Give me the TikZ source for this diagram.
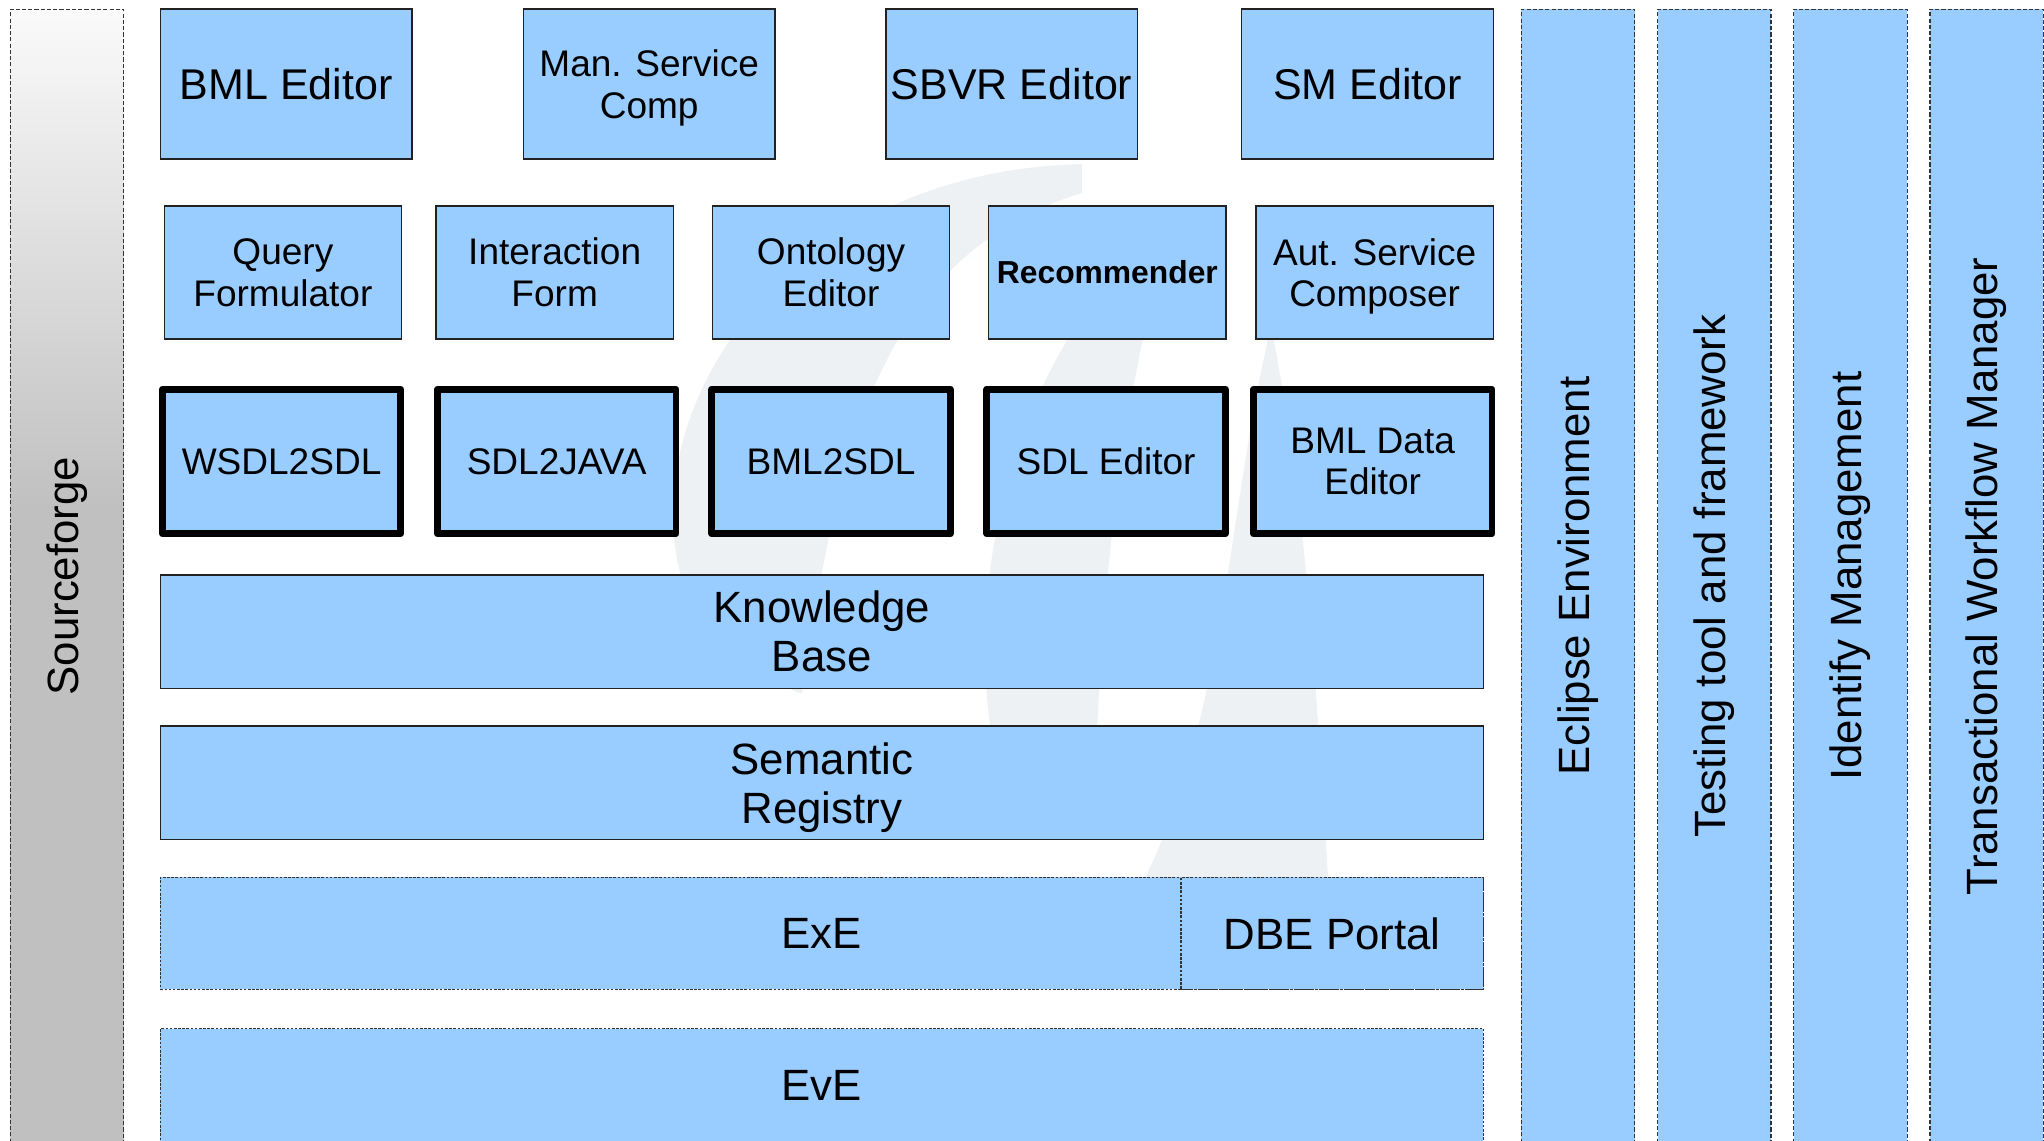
\documentclass[tikz,border=0pt]{standalone}
\usepackage{fontspec}
\setmainfont{Liberation Sans}
\usepackage{graphicx}
\definecolor{boxblue}{HTML}{99CCFF}
\definecolor{wmgrey}{HTML}{EEF1F4}
\definecolor{sfgrey}{HTML}{C0C0C0}
\definecolor{sflight}{HTML}{FAFAFA}
\definecolor{edgegrey}{HTML}{222222}
\pgfdeclareverticalshading{sfshade}{100bp}{color(0bp)=(sfgrey); color(53bp)=(sfgrey); color(75bp)=(sflight); color(100bp)=(sflight)}
\newcommand\myBig{\fontsize{16.5}{18.5}\selectfont}
\newcommand\myLayer{\fontsize{16.8}{18.8}\selectfont}
\newcommand\myMid{\fontsize{14.2}{16}\selectfont}
\newcommand\mySmall{\fontsize{12.2}{14}\selectfont\bfseries}
\newcommand\nodepth[1]{\raisebox{0pt}[\height][0pt]{#1}}
\tikzset{
  box/.style={draw=edgegrey, line width=0.55pt, fill=boxblue, inner sep=0pt, align=center, text=black},
  toprow/.style={box, minimum width=96.5pt, minimum height=57.5pt},
  midrow/.style={box, font=\myMid, minimum width=91pt, minimum height=51pt},
  toolbox/.style={box, draw=black, line width=2.6pt, line join=round, font=\myMid, minimum width=91.5pt, minimum height=55.5pt},
  layer/.style={box, font=\myLayer, minimum width=507.5pt, minimum height=43.5pt},
  dotlayer/.style={box, draw=black!80, line width=0.45pt, dash pattern=on 1pt off 0.6pt, font=\myLayer, minimum height=43pt},
  column/.style={box, draw=black!80, line width=0.45pt, dash pattern=on 1.6pt off 0.8pt, font=\myLayer, minimum width=43.5pt, minimum height=435pt},
}
\begin{document}
\begin{tikzpicture}[x=0.5pt, y=-0.5pt]
\useasboundingbox (0,0) rectangle (1568,875);
\clip (0,0) rectangle (1568,875);
\fill[white] (0,0) rectangle (1568,875);
% faint watermark
\fill[wmgrey] (830,126) .. controls (620,130) and (500,290) .. (518,420)
  .. controls (525,480) and (570,515) .. (615,532)
  .. controls (640,380) and (660,200) .. (830,148) -- cycle;
\fill[wmgrey] (900,170) .. controls (790,250) and (740,420) .. (760,560)
  .. controls (770,610) and (800,620) .. (840,600)
  .. controls (845,450) and (860,300) .. (900,170) -- cycle;
\fill[wmgrey] (975,250) .. controls (940,400) and (940,560) .. (870,690)
  -- (1020,690) .. controls (1010,550) and (1005,400) .. (975,250) -- cycle;
% left strip
\node[column, shade, shading=sfshade] (sf) at (51.5,442) {\rotatebox{90}{Sourceforge}};
% right columns
\node[column] (eclipse) at (1210.5,442) {\rotatebox{90}{Eclipse Environment}};
\node[column] (testing) at (1315,442) {\rotatebox{90}{Testing tool and framework}};
\node[column] (identify) at (1419.5,442) {\rotatebox{90}{Identify Management}};
\node[column] (twm) at (1524,442) {\rotatebox{90}{Transactional Workflow Manager}};
% row 1
\node[toprow, font=\myBig] (bml) at (219.5,64.5) {BML Editor};
\node[toprow, font=\myMid] (msc) at (498,64.5) {Man. Service\\\nodepth{Comp}};
\node[toprow, font=\myBig] (sbvr) at (776,64.5) {SBVR Editor};
\node[toprow, font=\myBig] (sm) at (1049,64.5) {SM Editor};
% row 2
\node[midrow] (qf) at (217,209) {Query\\Formulator};
\node[midrow] (if) at (425.5,209) {Interaction\\Form};
\node[midrow] (oe) at (637.5,209) {Ontology\\Editor};
\node[midrow, font=\mySmall] (rec) at (849.5,209) {Recommender};
\node[midrow] (asc) at (1054.5,209) {Aut. Service\\\nodepth{Composer}};
% row 3
\node[toolbox] (w2s) at (216,354) {WSDL2SDL};
\node[toolbox] (s2j) at (427,354) {SDL2JAVA};
\node[toolbox] (b2s) at (637.5,354) {BML2SDL};
\node[toolbox] (sdle) at (848.5,354) {SDL Editor};
\node[toolbox] (bde) at (1053,354) {BML Data\\Editor};
% layers
\node[layer] (kb) at (630.5,484.5) {Knowledge\\Base};
\node[layer] (sr) at (630.5,600.5) {Semantic\\\nodepth{Registry}};
\node[dotlayer, minimum width=507.5pt] (exe) at (630.5,716) {ExE};
\node[dotlayer, minimum width=116pt] (dbe) at (1022,716) {DBE Portal};
\node[dotlayer, minimum width=507.5pt, minimum height=44pt] (eve) at (630.5,833) {EvE};
\end{tikzpicture}
\end{document}
